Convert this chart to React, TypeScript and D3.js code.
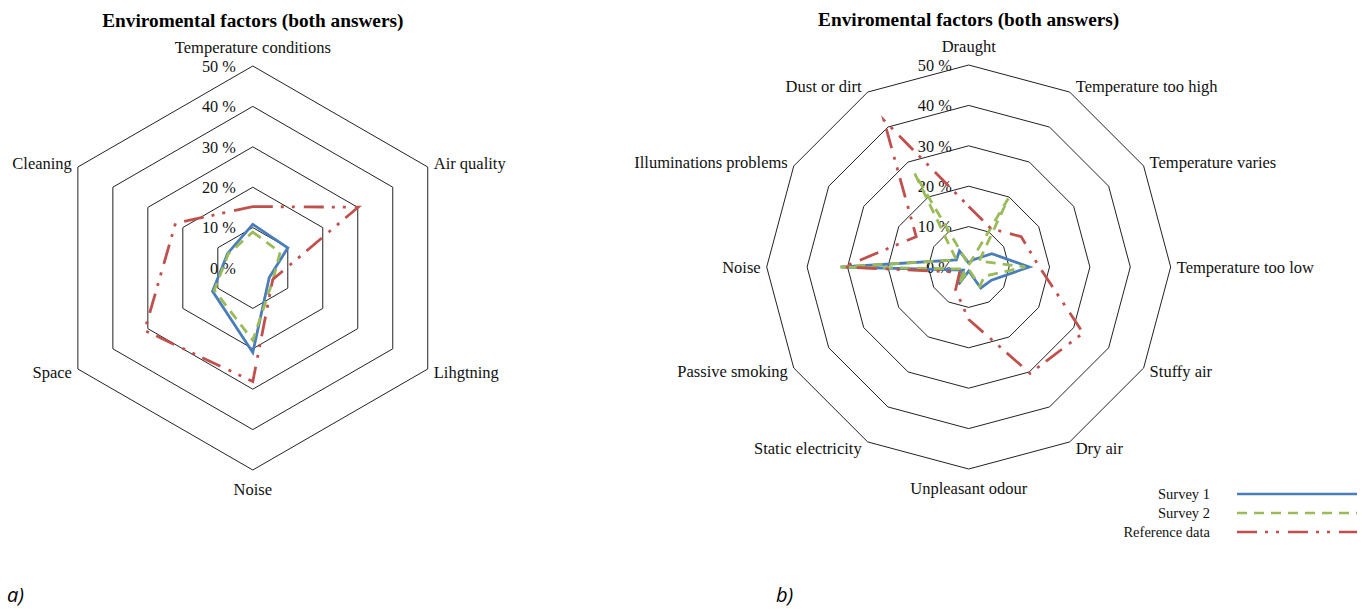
import React from 'react';
import * as d3 from 'd3';

// values in percent
const leftCategories = ['Temperature conditions', 'Air quality', 'Lihgtning', 'Noise', 'Space', 'Cleaning'];
const leftSurvey1 = [10.8, 10, 4.7, 20.9, 11.5, 7.2];
const leftSurvey2 = [8.9, 7.8, 5.8, 17.9, 11, 7];
const leftReference = [15.2, 30.1, 5.7, 28.1, 30.9, 22.1];

const rightCategories = [
  'Draught', 'Temperature too high', 'Temperature varies', 'Temperature too low',
  'Stuffy air', 'Dry air', 'Unpleasant odour', 'Static electricity',
  'Passive smoking', 'Noise', 'Illuminations problems', 'Dust or dirt',
];
const rightSurvey1 = [1, 2, 6.6, 15, 6.5, 6, 1, 5, 1.5, 31.5, 3.5, 4.6];
const rightSurvey2 = [0.5, 19.6, 3, 14, 4.5, 5.5, 0.5, 5, 1, 31.8, 3.5, 26.7];
const rightReference = [15, 11, 15, 17.5, 32.7, 30.4, 13, 6.5, 2.6, 31, 15, 42];

const tickValues = [0, 10, 20, 30, 40, 50];
const seriesNames = ['Survey 1', 'Survey 2', 'Reference data'];
const chartTitle = 'Enviromental factors (both answers)';

const styles = [
  { color: '#4a7ebb', dash: undefined },
  { color: '#9bbb59', dash: '10 7' },
  { color: '#c0504d', dash: '20 8 3 8 3 9' },
];

const SERIF = '"Liberation Serif", "Times New Roman", serif';
const R = 202;

type RadarProps = {
  cx: number;
  cy: number;
  categories: string[];
  series: number[][];
};

const Radar = ({ cx, cy, categories, series }: RadarProps) => {
  const n = categories.length;
  const r = d3.scaleLinear().domain([0, 50]).range([0, R]);
  const angle = (i: number) => (i * 2 * Math.PI) / n;

  const ring = d3.lineRadial<number>()
    .angle((_, i) => angle(i))
    .radius(d => r(d))
    .curve(d3.curveLinearClosed);

  return (
    <g transform={`translate(${cx},${cy})`}>
      <text x={0} y={-241} textAnchor="middle" fontFamily={SERIF} fontWeight="bold" fontSize={19.3}>
        {chartTitle}
      </text>

      {tickValues.slice(1).map(t => (
        <path key={t} d={ring(categories.map(() => t)) || ''} fill="none" stroke="#222" strokeWidth={1} />
      ))}

      {tickValues.map(t => (
        <text key={t} x={-17} y={-r(t)} dy="0.35em" textAnchor="end" fontFamily={SERIF} fontSize={16.3} fill="#111">
          {t} %
        </text>
      ))}

      {categories.map((c, i) => {
        const a = angle(i);
        const s = Math.sin(a);
        const co = Math.cos(a);
        const vx = R * s;
        const vy = -R * co;
        let x = vx;
        let y = vy;
        let anchor = 'middle';
        if (Math.abs(s) < 0.01) {
          y = vy + (co > 0 ? -19 : 19);
        } else {
          anchor = s > 0 ? 'start' : 'end';
          x = vx + (s > 0 ? 6 : -6);
          y = vy - co * 7;
        }
        return (
          <text key={c} x={x} y={y} dy="0.35em" textAnchor={anchor} fontFamily={SERIF} fontSize={16.5} fill="#111">
            {c}
          </text>
        );
      })}

      {series.map((vals, k) => (
        <path
          key={k}
          d={ring(vals) || ''}
          fill="none"
          stroke={styles[k].color}
          strokeWidth={2.8}
          strokeDasharray={styles[k].dash}
          strokeLinejoin="miter"
        />
      ))}
    </g>
  );
};

const App = () => {
  return (
    <div style={{ position: 'absolute', left: 0, top: 0 }}>
      <svg width={1362} height={609} style={{ display: 'block', background: '#fff' }}>
        <Radar cx={252.8} cy={268} categories={leftCategories} series={[leftSurvey1, leftSurvey2, leftReference]} />
        <Radar cx={968.7} cy={267} categories={rightCategories} series={[rightSurvey1, rightSurvey2, rightReference]} />

        <g>
          {seriesNames.map((name, k) => {
            const y = 494 + k * 19;
            return (
              <g key={name}>
                <text x={1210} y={y} dy="0.35em" textAnchor="end" fontFamily={SERIF} fontSize={14.5} fill="#111">
                  {name}
                </text>
                <line x1={1237} x2={1357} y1={y} y2={y} stroke={styles[k].color} strokeWidth={2.6}
                  strokeDasharray={styles[k].dash} />
              </g>
            );
          })}
        </g>

        <text x={7} y={602} fontFamily='"Open Sans", "Liberation Sans", sans-serif' fontStyle="italic" fontSize={20}>a)</text>
        <text x={776} y={602} fontFamily='"Open Sans", "Liberation Sans", sans-serif' fontStyle="italic" fontSize={20}>b)</text>
      </svg>
    </div>
  );
};

export default App;
